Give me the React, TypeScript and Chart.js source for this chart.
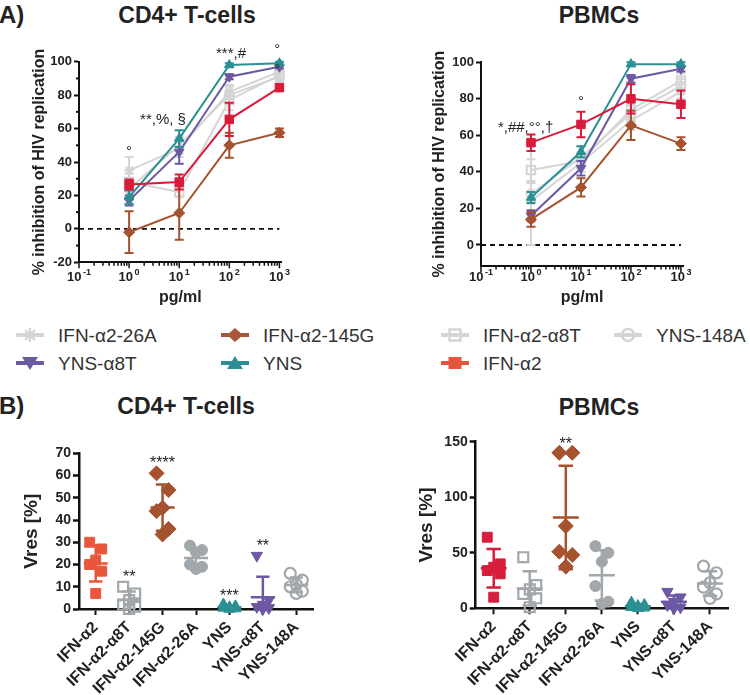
import React, { useEffect, useRef } from 'react';
import { Chart, registerables } from 'chart.js';

Chart.register(...registerables);

const FONT = "'Liberation Sans', Arial, Helvetica, sans-serif";

// ---------------- data ----------------
const DOSES = [1, 10, 100, 1000]; // pg/ml
const ZERO_LINE_X = [0.1, 1000];
const CATEGORIES = ['IFN-α2', 'IFN-α2-α8T', 'IFN-α2-145G', 'IFN-α2-26A', 'YNS', 'YNS-α8T', 'YNS-148A'];
const CD4_Y_TICKS = [-20, 0, 20, 40, 60, 80, 100];
const CD4_Y_MINOR = [-10, 10, 30, 50, 70, 90];
const PBMC_Y_TICKS = [0, 20, 40, 60, 80, 100];
const VRES_CD4_TICKS = [0, 10, 20, 30, 40, 50, 60, 70];
const VRES_PBMC_TICKS = [0, 50, 100, 150];
const X_EXPONENTS = [-1, 0, 1, 2, 3];

// Panel A, CD4+ T-cells (% inhibition, mean and error)
const CD4_IFN_A2 = [26.5, 28, 65.5, 84.5];
const CD4_IFN_A2_ERR = [3, 4.5, 10, 2];
const CD4_A8T = [28, 22, 77, 92];
const CD4_A8T_ERR = [5, 3, 6, 3];
const CD4_145G = [-2, 9.5, 50, 57.5];
const CD4_145G_ERR = [12.5, 16, 7.5, 2.5];
const CD4_26A = [35, 48, 82, 94];
const CD4_26A_ERR = [8, 5, 4, 3];
const CD4_YNS = [19, 54, 98, 99];
const CD4_YNS_ERR = [4, 5, 1, 1];
const CD4_YNS_A8T = [17, 46, 91, 97];
const CD4_YNS_A8T_ERR = [3, 7, 1.5, 1];
const CD4_148A = [24, 50, 80, 91];
const CD4_148A_ERR = [6, 5, 5, 3];

// Panel A, PBMCs
const PBMC_IFN_A2 = [56, 66, 80, 77];
const PBMC_IFN_A2_ERR = [4.5, 7, 8, 7.5];
const PBMC_A8T = [41, 46, 74, 90];
const PBMC_A8T_ERR = [6, 4, 5, 4];
const PBMC_145G = [14, 31.5, 65.5, 55.5];
const PBMC_145G_ERR = [4, 5, 8, 3.5];
const PBMC_26A = [24, 45, 68, 84];
const PBMC_26A_ERR = [10, 5, 5, 4];
const PBMC_YNS = [26, 51, 99, 99];
const PBMC_YNS_ERR = [3, 3, 1, 1];
const PBMC_YNS_A8T = [16, 42, 91, 96.5];
const PBMC_YNS_A8T_ERR = [3, 4, 2, 1.5];
const PBMC_148A = [28, 48, 72, 87];
const PBMC_148A_ERR = [28, 6, 5, 4];

// Panel B, Vres [%] individual values
const VRES_CD4_IFN_A2 = [30, 27, 22, 20, 17, 7];
const VRES_CD4_A8T = [10, 7, 4, 2, 1, 0];
const VRES_CD4_145G = [61, 53.5, 45.5, 44, 36, 33.5];
const VRES_CD4_26A = [28.5, 26.5, 25.5, 20, 19, 18];
const VRES_CD4_YNS = [2, 1.2, 0.8, 0.5, 0.2, 0];
const VRES_CD4_YNS_A8T = [24, 4, 2, 1, 0.5, 0];
const VRES_CD4_148A = [16, 13, 11, 10, 8, 7];

const VRES_PBMC_IFN_A2 = [64, 40, 37, 34, 31, 10];
const VRES_PBMC_A8T = [46, 21, 17, 13, 9, 1];
const VRES_PBMC_145G = [140, 140, 74, 51, 48, 37.5];
const VRES_PBMC_26A = [56, 50, 42, 20, 6, 4];
const VRES_PBMC_YNS = [5, 3, 2, 1, 0.5, 0];
const VRES_PBMC_YNS_A8T = [15, 10, 6, 3, 1, 0];
const VRES_PBMC_148A = [38, 32, 23, 19, 13, 9];

// significance labels (data coordinates)
type Note = { x: number; y: number; text: string };
const CD4_NOTES: Note[] = [
  { x: 1, y: 48, text: '°' },
  { x: 4.75, y: 67, text: '**,%, §' },
  { x: 108, y: 106.5, text: '***,#' },
  { x: 900, y: 109, text: '°' },
  { x: 900, y: 97, text: '°' },
];
const PBMC_NOTES: Note[] = [
  { x: 0.78, y: 66, text: '*,##,°°,†' },
  { x: 10, y: 80, text: '°' },
];
const VRES_CD4_NOTES: Note[] = [
  { x: 1, y: 15.5, text: '**' },
  { x: 2, y: 67, text: '****' },
  { x: 4, y: 7, text: '***' },
  { x: 5, y: 29.5, text: '**' },
];
const VRES_PBMC_NOTES: Note[] = [{ x: 2, y: 151, text: '**' }];

// ---------------- styles ----------------
type Shape = 'rect' | 'rectRot' | 'triangle' | 'triangleDown' | 'circle' | 'star';
const LIGHT = '#d5d5d5';
const MID = '#a1a7aa';
const STYLES: Record<string, { top: string; legend: string; bl: string; br: string; topShape: Shape; topFilled: boolean; botShape: Shape; botFilled: boolean }> = {
  'IFN-α2': { top: '#db1a3b', legend: '#e4563c', bl: '#e8573b', br: '#d71d3c', topShape: 'rect', topFilled: true, botShape: 'rect', botFilled: true },
  'IFN-α2-α8T': { top: LIGHT, legend: LIGHT, bl: MID, br: MID, topShape: 'rect', topFilled: false, botShape: 'rect', botFilled: false },
  'IFN-α2-145G': { top: '#a5532f', legend: '#a8563a', bl: '#a5532f', br: '#a5532f', topShape: 'rectRot', topFilled: true, botShape: 'rectRot', botFilled: true },
  'IFN-α2-26A': { top: LIGHT, legend: LIGHT, bl: MID, br: MID, topShape: 'star', topFilled: false, botShape: 'circle', botFilled: true },
  'YNS': { top: '#2a9094', legend: '#2a9094', bl: '#2a9094', br: '#2a9094', topShape: 'triangle', topFilled: true, botShape: 'triangle', botFilled: true },
  'YNS-α8T': { top: '#6c58a3', legend: '#6c58a3', bl: '#6c58a3', br: '#6c58a3', topShape: 'triangleDown', topFilled: true, botShape: 'triangleDown', botFilled: true },
  'YNS-148A': { top: LIGHT, legend: LIGHT, bl: MID, br: MID, topShape: 'circle', topFilled: false, botShape: 'circle', botFilled: false },
};

const TOP_RADIUS: Record<Shape, number> = { rect: 6, rectRot: 5.5, triangle: 5.5, triangleDown: 5.5, circle: 4.5, star: 5 };
const BOT_RADIUS: Record<Shape, number> = { rect: 7, rectRot: 7.5, triangle: 6.5, triangleDown: 6.5, circle: 5.5, star: 6 };
const JITTER = [-0.18, 0.18, 0, -0.18, 0.18, 0, 0.1];

// ---------------- panels ----------------
type Curve = { name: string; values: number[]; errors: number[] };
const CD4_CURVES: Curve[] = [
  { name: 'IFN-α2', values: CD4_IFN_A2, errors: CD4_IFN_A2_ERR },
  { name: 'YNS', values: CD4_YNS, errors: CD4_YNS_ERR },
  { name: 'YNS-α8T', values: CD4_YNS_A8T, errors: CD4_YNS_A8T_ERR },
  { name: 'IFN-α2-145G', values: CD4_145G, errors: CD4_145G_ERR },
  { name: 'IFN-α2-26A', values: CD4_26A, errors: CD4_26A_ERR },
  { name: 'IFN-α2-α8T', values: CD4_A8T, errors: CD4_A8T_ERR },
  { name: 'YNS-148A', values: CD4_148A, errors: CD4_148A_ERR },
];
const PBMC_CURVES: Curve[] = [
  { name: 'IFN-α2', values: PBMC_IFN_A2, errors: PBMC_IFN_A2_ERR },
  { name: 'IFN-α2-145G', values: PBMC_145G, errors: PBMC_145G_ERR },
  { name: 'YNS', values: PBMC_YNS, errors: PBMC_YNS_ERR },
  { name: 'YNS-α8T', values: PBMC_YNS_A8T, errors: PBMC_YNS_A8T_ERR },
  { name: 'IFN-α2-26A', values: PBMC_26A, errors: PBMC_26A_ERR },
  { name: 'IFN-α2-α8T', values: PBMC_A8T, errors: PBMC_A8T_ERR },
  { name: 'YNS-148A', values: PBMC_148A, errors: PBMC_148A_ERR },
];

type Group = { name: string; values: number[] };
const VRES_CD4_GROUPS: Group[] = [
  { name: 'IFN-α2', values: VRES_CD4_IFN_A2 },
  { name: 'IFN-α2-α8T', values: VRES_CD4_A8T },
  { name: 'IFN-α2-145G', values: VRES_CD4_145G },
  { name: 'IFN-α2-26A', values: VRES_CD4_26A },
  { name: 'YNS', values: VRES_CD4_YNS },
  { name: 'YNS-α8T', values: VRES_CD4_YNS_A8T },
  { name: 'YNS-148A', values: VRES_CD4_148A },
];
const VRES_PBMC_GROUPS: Group[] = [
  { name: 'IFN-α2', values: VRES_PBMC_IFN_A2 },
  { name: 'IFN-α2-α8T', values: VRES_PBMC_A8T },
  { name: 'IFN-α2-145G', values: VRES_PBMC_145G },
  { name: 'IFN-α2-26A', values: VRES_PBMC_26A },
  { name: 'YNS', values: VRES_PBMC_YNS },
  { name: 'YNS-α8T', values: VRES_PBMC_YNS_A8T },
  { name: 'YNS-148A', values: VRES_PBMC_148A },
];

// ---------------- plugins ----------------
const isPow10 = (v: number) => Math.abs(Math.log10(v) - Math.round(Math.log10(v))) < 1e-9;
const LOG_TICKS: number[] = (() => {
  const t: number[] = [];
  for (let e = -1; e < 3; e++) for (let d = 1; d < 10; d++) t.push(d * Math.pow(10, e));
  t.push(1000);
  return t;
})();

const errorBarPlugin = {
  id: 'errorBars',
  afterDatasetDraw(chart: any, args: any) {
    const ds = chart.data.datasets[args.index];
    if (!ds.errors) return;
    const { ctx } = chart;
    const ys = chart.scales.y;
    ctx.save();
    ctx.strokeStyle = ds.borderColor;
    ctx.lineWidth = 2;
    args.meta.data.forEach((pt: any, i: number) => {
      const v = ds.data[i].y;
      const e = ds.errors[i];
      const x = pt.x;
      const y1 = ys.getPixelForValue(v + e);
      const y2 = ys.getPixelForValue(v - e);
      ctx.beginPath();
      ctx.moveTo(x, y1); ctx.lineTo(x, y2);
      ctx.moveTo(x - 4.5, y1); ctx.lineTo(x + 4.5, y1);
      ctx.moveTo(x - 4.5, y2); ctx.lineTo(x + 4.5, y2);
      ctx.stroke();
    });
    ctx.restore();
  },
};

function logAxisPlugin(labelBaseline: number, minorY: number[]) {
  return {
    id: 'logAxis',
    afterDraw(chart: any) {
      const { ctx, chartArea } = chart;
      const xs = chart.scales.x;
      const ys = chart.scales.y;
      const ax = chartArea.bottom;
      ctx.save();
      ctx.strokeStyle = '#111';
      ctx.lineWidth = 1.5;
      for (const v of LOG_TICKS) {
        const px = xs.getPixelForValue(v);
        ctx.beginPath();
        ctx.moveTo(px, ax);
        ctx.lineTo(px, ax + (isPow10(v) ? 6 : 3.5));
        ctx.stroke();
      }
      ctx.lineWidth = 2;
      for (const v of minorY) {
        const py = ys.getPixelForValue(v);
        ctx.beginPath();
        ctx.moveTo(chartArea.left, py);
        ctx.lineTo(chartArea.left - 3, py);
        ctx.stroke();
      }
      ctx.fillStyle = '#222';
      ctx.textBaseline = 'alphabetic';
      ctx.textAlign = 'left';
      for (const e of X_EXPONENTS) {
        const px = xs.getPixelForValue(Math.pow(10, e));
        const base = '10';
        const sup = String(e);
        ctx.font = `bold 13px ${FONT}`;
        const w1 = ctx.measureText(base).width;
        ctx.font = `bold 9px ${FONT}`;
        const w2 = ctx.measureText(sup).width;
        const start = px - (w1 + 1.5 + w2) / 2;
        ctx.font = `bold 13px ${FONT}`;
        ctx.fillText(base, start, labelBaseline);
        ctx.font = `bold 9px ${FONT}`;
        ctx.fillText(sup, start + w1 + 1.5, labelBaseline - 6);
      }
      ctx.restore();
    },
  };
}

function notesPlugin(items: Note[], size: number) {
  return {
    id: 'notes',
    afterDatasetsDraw(chart: any) {
      const { ctx } = chart;
      const xs = chart.scales.x;
      const ys = chart.scales.y;
      ctx.save();
      ctx.fillStyle = '#222';
      ctx.font = `${size}px ${FONT}`;
      ctx.textAlign = 'center';
      ctx.textBaseline = 'middle';
      for (const n of items) {
        ctx.fillText(n.text, xs.getPixelForValue(n.x), ys.getPixelForValue(n.y) + size * 0.22);
      }
      ctx.restore();
    },
  };
}

const meanSdPlugin = {
  id: 'meanSd',
  afterDatasetsDraw(chart: any) {
    const { ctx, chartArea } = chart;
    const xs = chart.scales.x;
    const ys = chart.scales.y;
    ctx.save();
    ctx.beginPath();
    ctx.rect(chartArea.left - 30, chartArea.top - 40, chartArea.right - chartArea.left + 60, chartArea.bottom - chartArea.top + 40);
    ctx.clip();
    chart.data.datasets.forEach((ds: any) => {
      const vals: number[] = ds.values;
      if (!vals) return;
      const n = vals.length;
      const mean = vals.reduce((a, b) => a + b, 0) / n;
      const sd = Math.sqrt(vals.reduce((a, b) => a + (b - mean) * (b - mean), 0) / (n - 1));
      const c = ds.cat;
      const ym = ys.getPixelForValue(mean);
      const yt = ys.getPixelForValue(mean + sd);
      const yb = ys.getPixelForValue(mean - sd);
      ctx.strokeStyle = ds.pointBorderColor;
      ctx.lineWidth = 2.5;
      ctx.beginPath();
      ctx.moveTo(xs.getPixelForValue(c - 0.36), ym); ctx.lineTo(xs.getPixelForValue(c + 0.36), ym);
      ctx.moveTo(xs.getPixelForValue(c), yt); ctx.lineTo(xs.getPixelForValue(c), yb);
      ctx.moveTo(xs.getPixelForValue(c - 0.2), yt); ctx.lineTo(xs.getPixelForValue(c + 0.2), yt);
      ctx.moveTo(xs.getPixelForValue(c - 0.2), yb); ctx.lineTo(xs.getPixelForValue(c + 0.2), yb);
      ctx.stroke();
    });
    ctx.restore();
  },
};

// ---------------- configs ----------------
type CurvePanel = {
  curves: Curve[]; notes: Note[]; yMin: number; yTicks: number[]; yMinor: number[];
  padTop: number; padRight: number; yWidth: number; xHeight: number; yTitlePad: number; labelBaseline: number;
};

function shapeOpts(shape: Shape) {
  return shape === 'triangleDown' ? { style: 'triangle', rot: 180 } : { style: shape, rot: 0 };
}

function curveConfig(p: CurvePanel): any {
  const datasets: any[] = p.curves.map((c) => {
    const st = STYLES[c.name];
    const color = st.top;
    const so = shapeOpts(st.topShape);
    return {
      label: c.name,
      data: DOSES.map((d, i) => ({ x: d, y: c.values[i] })),
      errors: c.errors,
      borderColor: color,
      backgroundColor: color,
      pointBackgroundColor: st.topFilled ? color : 'rgba(255,255,255,0)',
      pointBorderColor: color,
      pointStyle: so.style,
      pointRotation: so.rot,
      pointRadius: TOP_RADIUS[st.topShape],
      pointBorderWidth: st.topFilled ? 1 : 2,
      borderWidth: 2,
      tension: 0,
      clip: false,
    };
  });
  datasets.push({
    label: 'zero',
    data: ZERO_LINE_X.map((x) => ({ x, y: 0 })),
    borderColor: '#111',
    borderDash: [5, 4],
    borderWidth: 1.8,
    pointRadius: 0,
    clip: false,
  });
  return {
    type: 'line',
    data: { datasets },
    options: {
      animation: false,
      responsive: false,
      maintainAspectRatio: false,
      events: [],
      layout: { padding: { top: p.padTop, right: p.padRight, left: 0, bottom: 0 } },
      plugins: { legend: { display: false }, tooltip: { enabled: false } },
      scales: {
        x: {
          type: 'logarithmic',
          min: 0.1,
          max: 1100,
          afterBuildTicks: (s: any) => { s.ticks = LOG_TICKS.map((v) => ({ value: v })); },
          afterFit: (s: any) => { s.height = p.xHeight; },
          grid: { display: false },
          border: { display: true, color: '#111', width: 2 },
          ticks: { display: false },
          title: { display: true, text: 'pg/ml', color: '#222', font: { family: FONT, size: 16, weight: 'bold' }, padding: { top: 0, bottom: 7.4 } },
        },
        y: {
          min: p.yMin,
          max: 100,
          afterBuildTicks: (s: any) => { s.ticks = p.yTicks.map((v) => ({ value: v })); },
          afterFit: (s: any) => { s.width = p.yWidth; },
          grid: { drawOnChartArea: false, drawTicks: true, tickLength: 5, tickWidth: 2, tickColor: '#111' },
          border: { color: '#111', width: 2 },
          ticks: { color: '#222', font: { family: FONT, size: 13, weight: 'bold' }, padding: 2 },
          title: { display: true, text: '% inhibition of HIV replication', color: '#222', font: { family: FONT, size: 16, weight: 'bold' }, padding: { top: p.yTitlePad, bottom: 0 } },
        },
      },
    },
    plugins: [errorBarPlugin, logAxisPlugin(p.labelBaseline, p.yMinor), notesPlugin(p.notes, 15)],
  };
}

type DotPanel = {
  groups: Group[]; notes: Note[]; colorKey: 'bl' | 'br'; yMax: number; yTicks: number[];
  padTop: number; padRight: number; yWidth: number; xHeight: number; yTitlePad: number;
};

function dotConfig(p: DotPanel): any {
  const datasets = p.groups.map((g) => {
    const st = STYLES[g.name];
    const color = st[p.colorKey];
    const so = shapeOpts(st.botShape);
    const ci = CATEGORIES.indexOf(g.name);
    return {
      label: g.name,
      data: g.values.map((v, k) => ({ x: ci + JITTER[k % JITTER.length], y: v })),
      values: g.values,
      cat: ci,
      pointStyle: so.style,
      pointRotation: so.rot,
      pointRadius: BOT_RADIUS[st.botShape],
      pointBackgroundColor: st.botFilled ? color : 'rgba(255,255,255,0)',
      pointBorderColor: color,
      pointBorderWidth: st.botFilled ? 1 : 2.2,
      showLine: false,
      clip: false,
    };
  });
  return {
    type: 'scatter',
    data: { datasets },
    options: {
      animation: false,
      responsive: false,
      maintainAspectRatio: false,
      events: [],
      layout: { padding: { top: p.padTop, right: p.padRight, left: 0, bottom: 0 } },
      plugins: { legend: { display: false }, tooltip: { enabled: false } },
      scales: {
        x: {
          type: 'linear',
          min: -0.5,
          max: CATEGORIES.length - 0.5,
          afterBuildTicks: (s: any) => { s.ticks = CATEGORIES.map((_, i) => ({ value: i })); },
          afterFit: (s: any) => { s.height = p.xHeight; },
          grid: { drawOnChartArea: false, drawTicks: true, tickLength: 6, tickWidth: 2, tickColor: '#111' },
          border: { color: '#111', width: 2.5 },
          ticks: {
            autoSkip: false, minRotation: 45, maxRotation: 45, padding: 3,
            color: '#222', font: { family: FONT, size: 16, weight: 'bold' },
            callback: (v: any) => CATEGORIES[Math.round(Number(v))] ?? '',
          },
        },
        y: {
          min: 0,
          max: p.yMax,
          afterBuildTicks: (s: any) => { s.ticks = p.yTicks.map((v) => ({ value: v })); },
          afterFit: (s: any) => { s.width = p.yWidth; },
          grid: { drawOnChartArea: false, drawTicks: true, tickLength: 6, tickWidth: 2.5, tickColor: '#111' },
          border: { color: '#111', width: 2.5 },
          ticks: { color: '#222', font: { family: FONT, size: 14, weight: 'bold' }, padding: 2 },
          title: { display: true, text: 'Vres [%]', color: '#222', font: { family: FONT, size: 19, weight: 'bold' }, padding: { top: p.yTitlePad, bottom: 0 } },
        },
      },
    },
    plugins: [meanSdPlugin, notesPlugin(p.notes, 16)],
  };
}

const CD4_PANEL: CurvePanel = {
  curves: CD4_CURVES, notes: CD4_NOTES, yMin: -20, yTicks: CD4_Y_TICKS, yMinor: CD4_Y_MINOR,
  padTop: 21.7, padRight: 18.5, yWidth: 79, xHeight: 52.7, yTitlePad: 30.4, labelBaseline: 241.3,
};
const PBMC_PANEL: CurvePanel = {
  curves: PBMC_CURVES, notes: PBMC_NOTES, yMin: -11.5, yTicks: PBMC_Y_TICKS, yMinor: [],
  padTop: 22.3, padRight: 67, yWidth: 106, xHeight: 49, yTitlePad: 55.4, labelBaseline: 241.3,
};
const VRES_CD4_PANEL: DotPanel = {
  groups: VRES_CD4_GROUPS, notes: VRES_CD4_NOTES, colorKey: 'bl', yMax: 70, yTicks: VRES_CD4_TICKS,
  padTop: 28.3, padRight: 62, yWidth: 79, xHeight: 86, yTitlePad: 20.3,
};
const VRES_PBMC_PANEL: DotPanel = {
  groups: VRES_PBMC_GROUPS, notes: VRES_PBMC_NOTES, colorKey: 'br', yMax: 150, yTicks: VRES_PBMC_TICKS,
  padTop: 21.7, padRight: 22, yWidth: 100.7, xHeight: 86.7, yTitlePad: 40.3,
};

// ---------------- components ----------------
function ChartBox({ left, top, width, height, make }: { left: number; top: number; width: number; height: number; make: () => any }) {
  const ref = useRef<HTMLCanvasElement>(null);
  useEffect(() => {
    const chart = new Chart(ref.current as HTMLCanvasElement, make());
    return () => chart.destroy();
  }, []);
  return <canvas ref={ref} width={width} height={height} style={{ position: 'absolute', left, top, width, height }} />;
}

function Label({ x, cx, y, size, bold, children }: { x?: number; cx?: number; y: number; size: number; bold?: boolean; children: React.ReactNode }) {
  const style: React.CSSProperties = {
    position: 'absolute', top: y - 0.49 * size, fontSize: size, lineHeight: `${size}px`,
    fontWeight: bold ? 'bold' : 'normal', whiteSpace: 'nowrap', color: '#222',
  };
  if (cx !== undefined) { style.left = cx - 150; style.width = 300; style.textAlign = 'center'; }
  else style.left = x;
  return <div style={style}>{children}</div>;
}

function LegendMarker({ name }: { name: string }) {
  const st = STYLES[name];
  const c = st.legend;
  const cx = 17, cy = 10;
  let shape: React.ReactNode = null;
  switch (st.topShape) {
    case 'star':
      shape = (
        <g stroke={c} strokeWidth={2.4}>
          <line x1={cx} y1={cy - 7} x2={cx} y2={cy + 7} />
          <line x1={cx - 7} y1={cy} x2={cx + 7} y2={cy} />
          <line x1={cx - 5} y1={cy - 5} x2={cx + 5} y2={cy + 5} />
          <line x1={cx - 5} y1={cy + 5} x2={cx + 5} y2={cy - 5} />
        </g>
      );
      break;
    case 'rectRot':
      shape = <polygon points={`${cx - 8},${cy} ${cx},${cy - 7} ${cx + 8},${cy} ${cx},${cy + 7}`} fill={c} />;
      break;
    case 'rect':
      shape = st.topFilled
        ? <rect x={cx - 6.5} y={cy - 6} width={13} height={12} fill={c} />
        : <rect x={cx - 5.5} y={cy - 5.5} width={11} height={11} fill="none" stroke={c} strokeWidth={2.5} />;
      break;
    case 'circle':
      shape = <circle cx={cx} cy={cy} r={6} fill="none" stroke={c} strokeWidth={2.5} />;
      break;
    case 'triangle':
      shape = <polygon points={`${cx - 8},${cy + 6} ${cx + 8},${cy + 6} ${cx},${cy - 7}`} fill={c} />;
      break;
    case 'triangleDown':
      shape = <polygon points={`${cx - 8},${cy - 6} ${cx + 8},${cy - 6} ${cx},${cy + 7}`} fill={c} />;
      break;
  }
  return (
    <svg width={34} height={20} style={{ display: 'block' }}>
      <line x1={3} y1={cy} x2={31} y2={cy} stroke={c} strokeWidth={4} />
      {shape}
    </svg>
  );
}

const LEGEND_ROWS = [
  ['IFN-α2-26A', 'IFN-α2-145G', 'IFN-α2-α8T', 'YNS-148A'],
  ['YNS-α8T', 'YNS', 'IFN-α2'],
];
const LEGEND_X = [30, 235, 455, 628];
const LEGEND_Y = [335, 363];

function Legend() {
  const items: React.ReactNode[] = [];
  LEGEND_ROWS.forEach((row, r) =>
    row.forEach((name, i) => {
      const mx = LEGEND_X[i];
      const y = LEGEND_Y[r];
      items.push(
        <div key={name} style={{ position: 'absolute', left: mx - 17, top: y - 10 }}>
          <LegendMarker name={name} />
        </div>,
      );
      items.push(
        <div key={name + '-t'} style={{ position: 'absolute', left: mx + 28, top: y - 0.49 * 19, fontSize: 19, lineHeight: '19px', whiteSpace: 'nowrap', color: '#333' }}>
          {name}
        </div>,
      );
    }),
  );
  return <>{items}</>;
}

export default function App() {
  return (
    <div style={{ position: 'absolute', left: 0, top: 0, width: 750, height: 695, background: '#fff', overflow: 'hidden', fontFamily: FONT, color: '#222' }}>
      <Label x={-1} y={15} size={24} bold>A)</Label>
      <Label cx={187} y={15} size={23} bold>CD4+ T-cells</Label>
      <Label cx={599} y={15} size={23} bold>PBMCs</Label>
      <ChartBox left={0} top={40} width={300} height={275} make={() => curveConfig(CD4_PANEL)} />
      <ChartBox left={375} top={40} width={375} height={275} make={() => curveConfig(PBMC_PANEL)} />
      <Legend />
      <Label x={-1} y={406} size={24} bold>B)</Label>
      <Label cx={186} y={406} size={23} bold>CD4+ T-cells</Label>
      <Label cx={599} y={407} size={23} bold>PBMCs</Label>
      <ChartBox left={0} top={425} width={375} height={270} make={() => dotConfig(VRES_CD4_PANEL)} />
      <ChartBox left={375} top={420} width={375} height={275} make={() => dotConfig(VRES_PBMC_PANEL)} />
    </div>
  );
}
